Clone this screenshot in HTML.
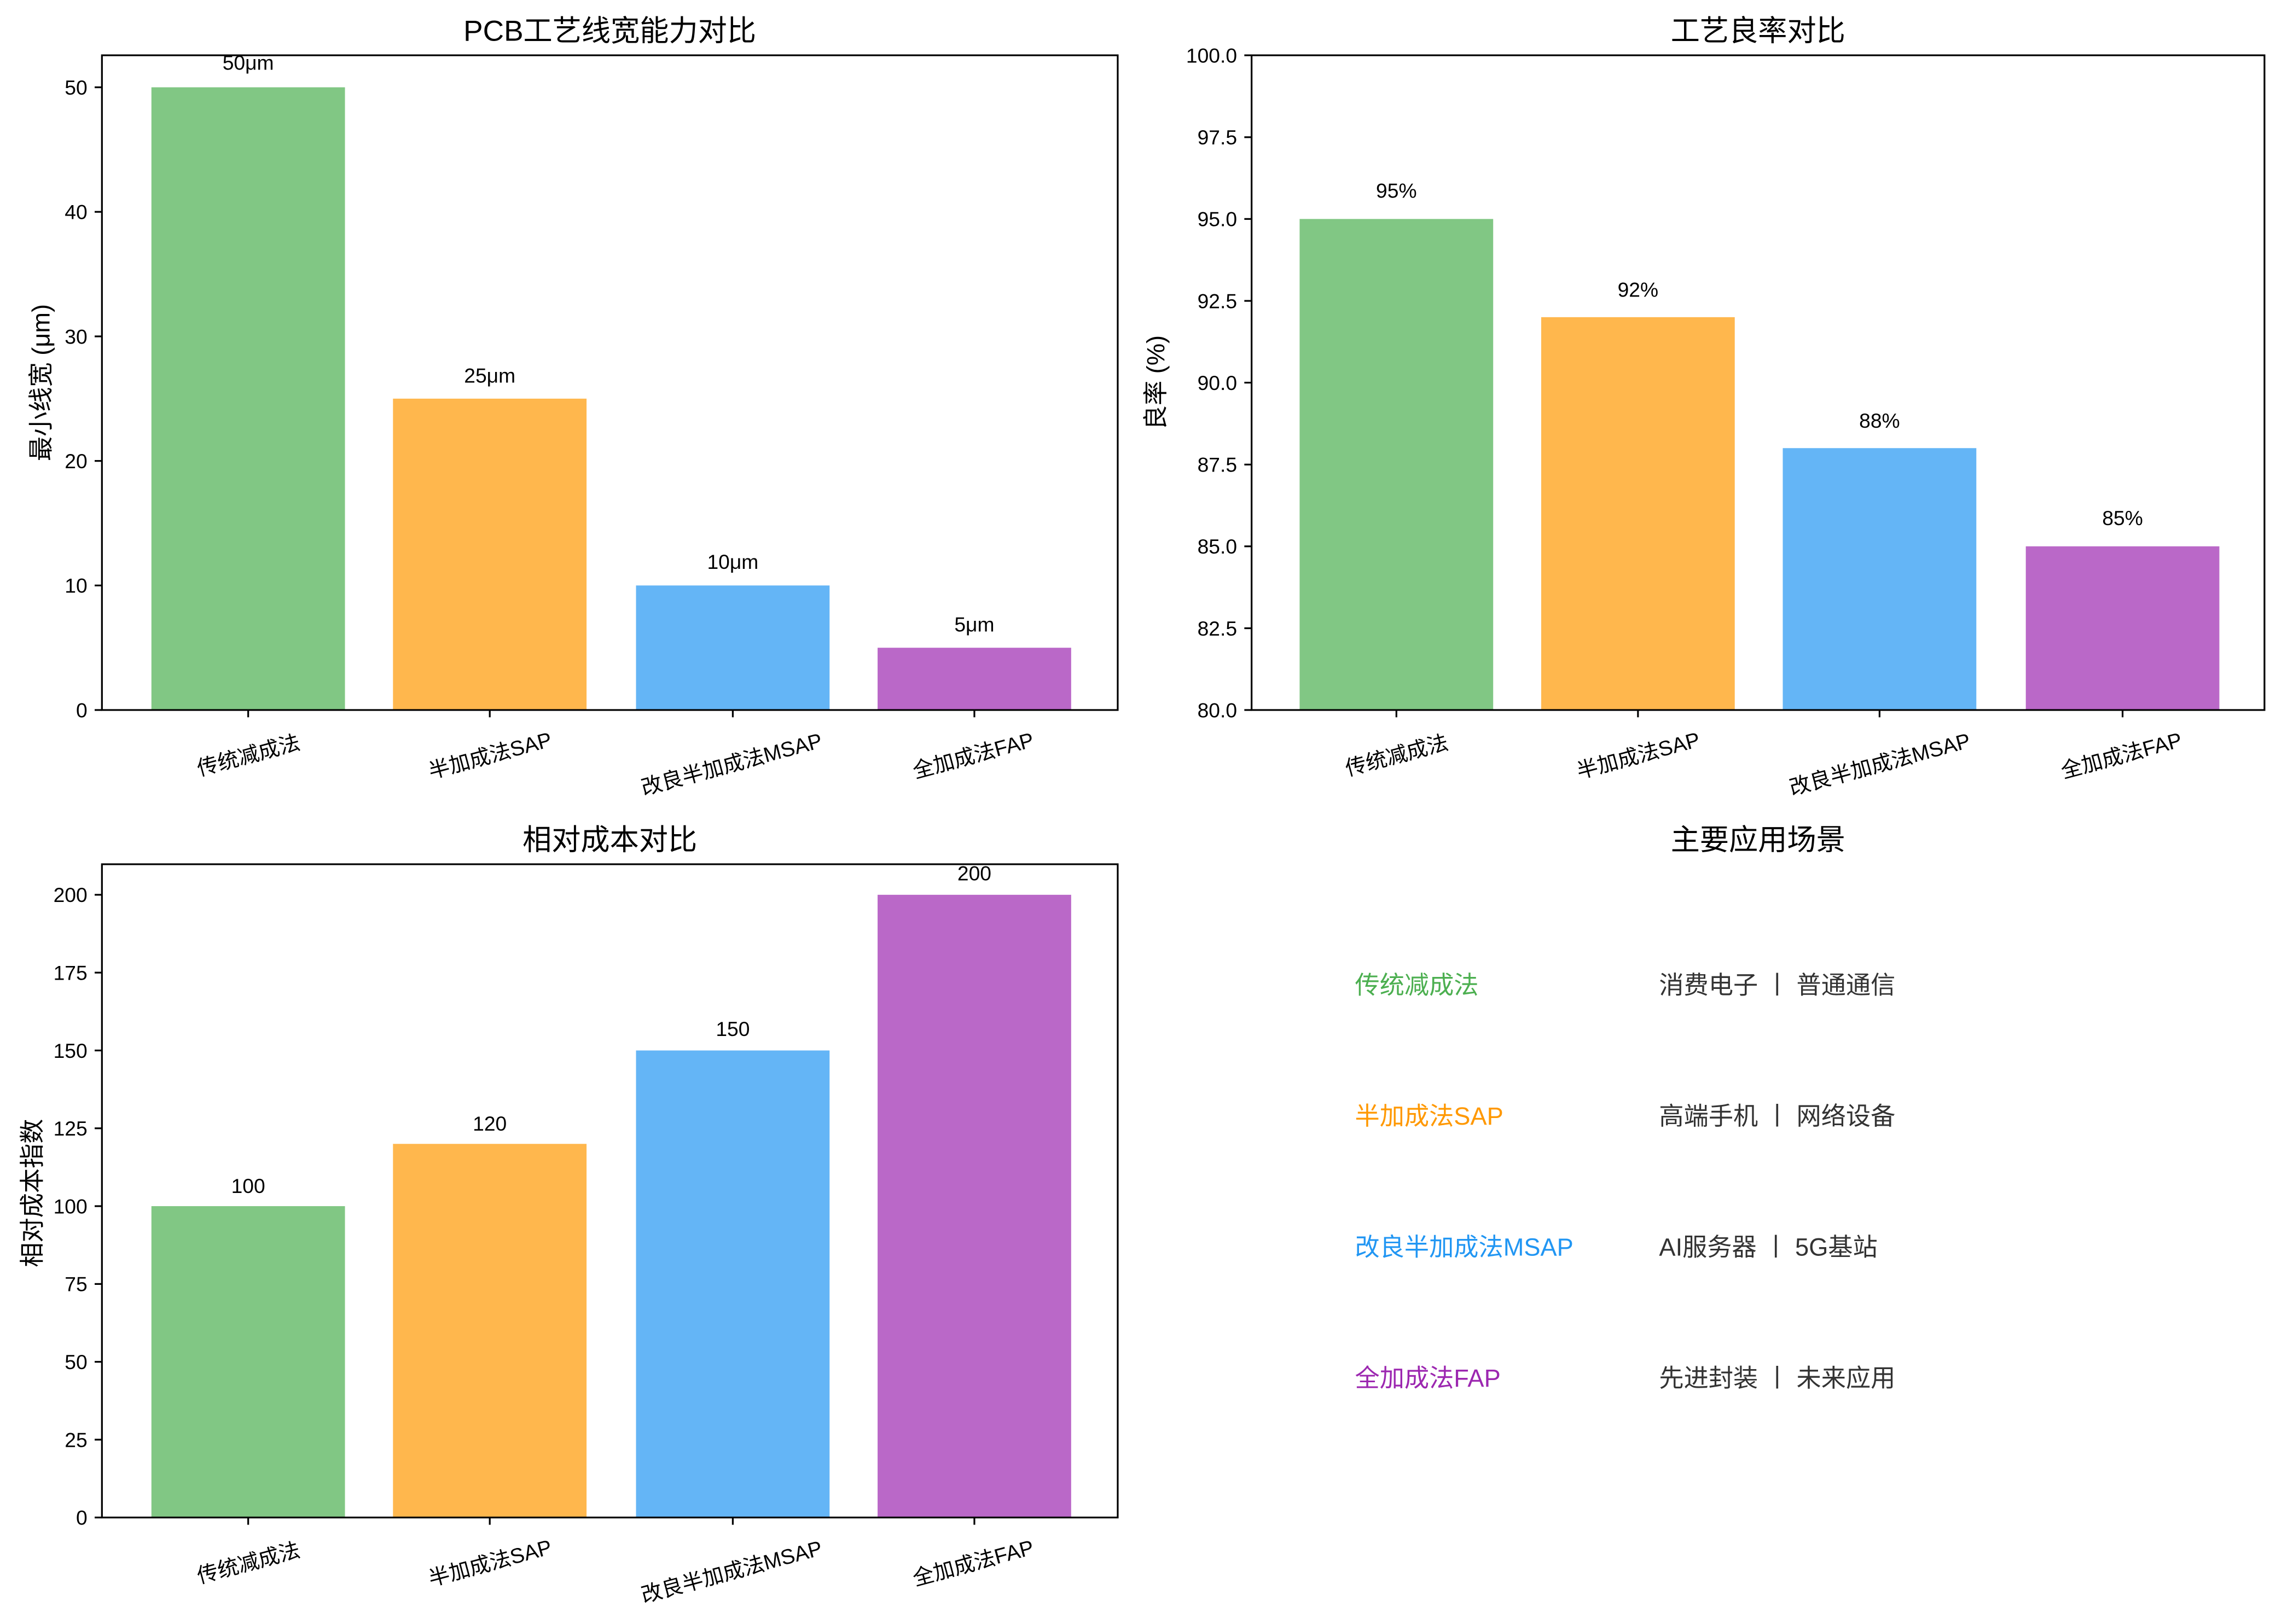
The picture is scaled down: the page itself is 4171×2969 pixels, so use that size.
<!DOCTYPE html>
<html><head><meta charset="utf-8"><style>
html,body{margin:0;padding:0;background:#fff;}
svg{display:block;}
text{font-family:"Liberation Sans","Noto Sans CJK SC",sans-serif;fill:#000;}
</style></head><body>
<svg width="4171" height="2969" viewBox="0 0 1568 1116.2" xmlns="http://www.w3.org/2000/svg">
<rect width="1568" height="1117" fill="#fff"/>
<!-- Panel 1 -->
<text x="419" y="28" font-size="20" text-anchor="middle">PCB工艺线宽能力对比</text>
<rect x="104" y="60" width="133" height="428" fill="#81c784"/>
<rect x="270" y="274" width="133" height="214" fill="#ffb74d"/>
<rect x="437" y="402.4" width="133" height="85.6" fill="#64b5f6"/>
<rect x="603" y="445.2" width="133" height="42.8" fill="#ba68c8"/>
<rect x="70" y="38" width="698" height="450" fill="none" stroke="#000" stroke-width="1.2"/>
<g font-size="14" text-anchor="end">
<text x="60" y="493">0</text><text x="60" y="407.4">10</text><text x="60" y="321.8">20</text><text x="60" y="236.2">30</text><text x="60" y="150.6">40</text><text x="60" y="65">50</text>
</g>
<g stroke="#000" stroke-width="1.2">
<line x1="65" x2="70" y1="488" y2="488"/><line x1="65" x2="70" y1="402.4" y2="402.4"/><line x1="65" x2="70" y1="316.8" y2="316.8"/><line x1="65" x2="70" y1="231.2" y2="231.2"/><line x1="65" x2="70" y1="145.6" y2="145.6"/><line x1="65" x2="70" y1="60" y2="60"/>
<line x1="170.5" x2="170.5" y1="488" y2="493"/><line x1="336.5" x2="336.5" y1="488" y2="493"/><line x1="503.5" x2="503.5" y1="488" y2="493"/><line x1="669.5" x2="669.5" y1="488" y2="493"/>
</g>
<text transform="translate(34,263) rotate(-90)" font-size="17" text-anchor="middle">最小线宽 (μm)</text>
<g font-size="14" text-anchor="middle">
<text x="170.5" y="48">50μm</text><text x="336.5" y="263">25μm</text><text x="503.5" y="391">10μm</text><text x="669.5" y="434">5μm</text>
</g>
<g font-size="14.5" text-anchor="middle">
<text transform="translate(172,524) rotate(-15)">传统减成法</text>
<text transform="translate(338,524) rotate(-15)">半加成法SAP</text>
<text transform="translate(504,530) rotate(-15)">改良半加成法MSAP</text>
<text transform="translate(670,524) rotate(-15)">全加成法FAP</text>
</g>
<!-- Panel 2 -->
<text x="1208" y="28" font-size="20" text-anchor="middle">工艺良率对比</text>
<rect x="893" y="150.5" width="133" height="337.5" fill="#81c784"/>
<rect x="1059" y="218" width="133" height="270" fill="#ffb74d"/>
<rect x="1225" y="308" width="133" height="180" fill="#64b5f6"/>
<rect x="1392" y="375.5" width="133" height="112.5" fill="#ba68c8"/>
<rect x="860" y="38" width="696" height="450" fill="none" stroke="#000" stroke-width="1.2"/>
<g font-size="14" text-anchor="end">
<text x="850" y="493">80.0</text><text x="850" y="436.8">82.5</text><text x="850" y="380.5">85.0</text><text x="850" y="324.3">87.5</text><text x="850" y="268">90.0</text><text x="850" y="211.8">92.5</text><text x="850" y="155.5">95.0</text><text x="850" y="99.3">97.5</text><text x="850" y="43">100.0</text>
</g>
<g stroke="#000" stroke-width="1.2">
<line x1="855" x2="860" y1="488" y2="488"/><line x1="855" x2="860" y1="431.8" y2="431.8"/><line x1="855" x2="860" y1="375.5" y2="375.5"/><line x1="855" x2="860" y1="319.3" y2="319.3"/><line x1="855" x2="860" y1="263" y2="263"/><line x1="855" x2="860" y1="206.8" y2="206.8"/><line x1="855" x2="860" y1="150.5" y2="150.5"/><line x1="855" x2="860" y1="94.3" y2="94.3"/><line x1="855" x2="860" y1="38" y2="38"/>
<line x1="959.5" x2="959.5" y1="488" y2="493"/><line x1="1125.5" x2="1125.5" y1="488" y2="493"/><line x1="1291.5" x2="1291.5" y1="488" y2="493"/><line x1="1458.5" x2="1458.5" y1="488" y2="493"/>
</g>
<text transform="translate(800,263) rotate(-90)" font-size="17" text-anchor="middle">良率 (%)</text>
<g font-size="14" text-anchor="middle">
<text x="959.5" y="136">95%</text><text x="1125.5" y="204">92%</text><text x="1291.5" y="294">88%</text><text x="1458.5" y="361">85%</text>
</g>
<g font-size="14.5" text-anchor="middle">
<text transform="translate(961,524) rotate(-15)">传统减成法</text>
<text transform="translate(1127,524) rotate(-15)">半加成法SAP</text>
<text transform="translate(1293,530) rotate(-15)">改良半加成法MSAP</text>
<text transform="translate(1459,524) rotate(-15)">全加成法FAP</text>
</g>
<!-- Panel 3 -->
<text x="419" y="584" font-size="20" text-anchor="middle">相对成本对比</text>
<rect x="104" y="829" width="133" height="214" fill="#81c784"/>
<rect x="270" y="786.2" width="133" height="256.8" fill="#ffb74d"/>
<rect x="437" y="722" width="133" height="321" fill="#64b5f6"/>
<rect x="603" y="615" width="133" height="428" fill="#ba68c8"/>
<rect x="70" y="594" width="698" height="449" fill="none" stroke="#000" stroke-width="1.2"/>
<g font-size="14" text-anchor="end">
<text x="60" y="1048">0</text><text x="60" y="994.5">25</text><text x="60" y="941">50</text><text x="60" y="887.5">75</text><text x="60" y="834">100</text><text x="60" y="780.5">125</text><text x="60" y="727">150</text><text x="60" y="673.5">175</text><text x="60" y="620">200</text>
</g>
<g stroke="#000" stroke-width="1.2">
<line x1="65" x2="70" y1="1043" y2="1043"/><line x1="65" x2="70" y1="989.5" y2="989.5"/><line x1="65" x2="70" y1="936" y2="936"/><line x1="65" x2="70" y1="882.5" y2="882.5"/><line x1="65" x2="70" y1="829" y2="829"/><line x1="65" x2="70" y1="775.5" y2="775.5"/><line x1="65" x2="70" y1="722" y2="722"/><line x1="65" x2="70" y1="668.5" y2="668.5"/><line x1="65" x2="70" y1="615" y2="615"/>
<line x1="170.5" x2="170.5" y1="1043" y2="1048"/><line x1="336.5" x2="336.5" y1="1043" y2="1048"/><line x1="503.5" x2="503.5" y1="1043" y2="1048"/><line x1="669.5" x2="669.5" y1="1043" y2="1048"/>
</g>
<text transform="translate(28,820) rotate(-90)" font-size="17" text-anchor="middle">相对成本指数</text>
<g font-size="14" text-anchor="middle">
<text x="170.5" y="820">100</text><text x="336.5" y="777">120</text><text x="503.5" y="712">150</text><text x="669.5" y="605">200</text>
</g>
<g font-size="14.5" text-anchor="middle">
<text transform="translate(172,1079) rotate(-15)">传统减成法</text>
<text transform="translate(338,1079) rotate(-15)">半加成法SAP</text>
<text transform="translate(504,1085) rotate(-15)">改良半加成法MSAP</text>
<text transform="translate(670,1079) rotate(-15)">全加成法FAP</text>
</g>
<!-- Panel 4 -->
<text x="1208" y="584" font-size="20" text-anchor="middle">主要应用场景</text>
<g font-size="17">
<text x="931" y="683" style="fill:#4caf50">传统减成法</text>
<text x="1140" y="683" style="fill:#333">消费电子 丨 普通通信</text>
<text x="931" y="773" style="fill:#ff9800">半加成法SAP</text>
<text x="1140" y="773" style="fill:#333">高端手机 丨 网络设备</text>
<text x="931" y="863" style="fill:#2196f3">改良半加成法MSAP</text>
<text x="1140" y="863" style="fill:#333">AI服务器 丨 5G基站</text>
<text x="931" y="953" style="fill:#9c27b0">全加成法FAP</text>
<text x="1140" y="953" style="fill:#333">先进封装 丨 未来应用</text>
</g>
</svg>
</body></html>
